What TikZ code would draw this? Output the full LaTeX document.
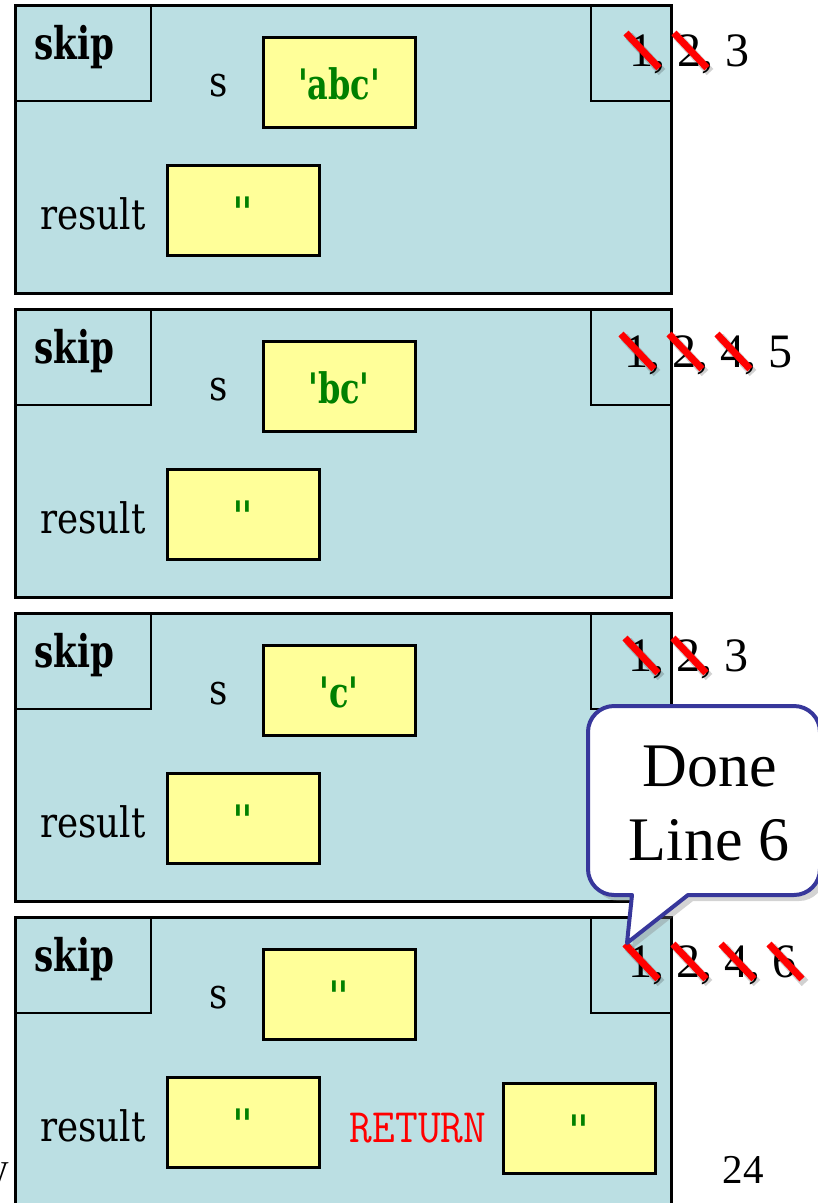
\documentclass[tikz,border=0pt]{standalone}
\usepackage{fontspec}
\usepackage{graphicx}
\usetikzlibrary{shadows}
\setmainfont{Liberation Serif}
\newfontfamily\labf{DejaVu Serif}[FakeStretch=0.85]
\newfontfamily\skipf{DejaVu Serif}[FakeStretch=0.76]
\newfontfamily\valf{DejaVu Serif}[FakeStretch=0.76,Ligatures=TeXOff]
\definecolor{framebg}{RGB}{187,223,227}
\definecolor{valbg}{RGB}{255,255,153}
\definecolor{valtxt}{RGB}{0,128,0}
\definecolor{callblue}{RGB}{55,55,155}
\begin{document}
\begin{tikzpicture}[x=1pt,y=1pt,
  frame/.style={draw=black,line width=3pt,fill=framebg,inner sep=0,minimum width=656pt,minimum height=288pt},
  sub/.style={draw=black,line width=2.5pt,inner sep=0,minimum height=96pt},
  vbox/.style={draw=black,line width=3pt,fill=valbg,inner sep=0,minimum width=152pt,minimum height=90pt},
  lbl/.style={font=\labf\fontsize{42}{42}\selectfont,inner sep=0,anchor=base},
  skiplbl/.style={font=\skipf\bfseries\fontsize{45}{45}\selectfont,inner sep=0,anchor=base west},
  val/.style={font=\valf\bfseries\fontsize{42}{42}\selectfont,text=valtxt,inner sep=0,anchor=base},
  retlbl/.style={font=\ttfamily\fontsize{48}{48}\selectfont,text=red,inner sep=0,anchor=base},
  lnum/.style={font=\fontsize{48}{48}\selectfont,inner sep=0,anchor=base west},
  strikeline/.style={draw=red,line width=7pt},
  strikeshade/.style={draw=black,opacity=0.18,line width=9pt},
  callout/.style={draw=callblue,line width=4pt,fill=white,line join=round,
     drop shadow={opacity=0.35,shadow xshift=5pt,shadow yshift=-6pt}},
  big/.style={font=\fontsize{62}{62}\selectfont,inner sep=0,anchor=base}
]
\useasboundingbox (0,0) rectangle (818,-1203);
\clip (0,0) rectangle (818,-1203);

% frames
\foreach \k/\T/\v in {1/5/'abc',2/309/'bc',3/613/'c',4/917/''}{
  \node[frame] (f\k) at (343,-\T-144) {};
  \node[sub,minimum width=136pt] (sk\k) at (83,-\T-48) {};
  \node[sub,minimum width=80pt] (ln\k) at (631,-\T-48) {};
  \node[skiplbl] (skt\k) at (34,-\T-54) {skip};
  \node[lbl] (st\k) at (219,-\T-91) {s};
  \node[lbl] (rt\k) at (93,-\T-224) {result};
  \node[vbox] (sb\k) at (339,-\T-77) {};
  \node[val] (sv\k) at (339,-\T-94) {\v};
  \node[vbox] (rb\k) at (243,-\T-205) {};
  \node[val] (rv\k) at (243,-\T-222) {''};
}

% return value
\node[retlbl] (ret) at (418,-1142) {\scalebox{0.92}[1]{RETURN}};
\node[vbox] (retb) at (579,-1128) {};
\node[val] (retv) at (579,-1145) {''};

% line numbers
\node[lnum] (num1) at (629,-66) {1, 2, 3};
\node[lnum] (num2) at (624,-367) {1, 2, 4, 5};
\node[lnum] (num3) at (628,-671) {1, 2, 3};
\node[lnum] (num4) at (628,-977) {1, 2, 4, 6};

% strikes
\foreach \o/\b in {629/66,677/66,
                   624/367,672/367,720/367,
                   628/671,676/671,
                   628/977,676/977,724/977,772/977}{
  \draw[strikeshade] (\o+0,-\b+30) -- (\o+33,-\b-6);
  \draw[strikeline] (\o-3,-\b+33) -- (\o+30,-\b-2);
}

% footer
\node[font=\fontsize{41}{41}\selectfont,anchor=base east,inner sep=0] (wtxt) at (9,-1181) {w};
\node[font=\fontsize{41}{41}\selectfont,anchor=base,inner sep=0] (pg) at (743,-1183) {24};

% callout
\draw[callout] (632,-895) -- (614,-895) arc[start angle=270,end angle=180,radius=26]
  -- (588,-732) arc[start angle=180,end angle=90,radius=26]
  -- (794,-706) arc[start angle=90,end angle=0,radius=26]
  -- (820,-869) arc[start angle=0,end angle=-90,radius=26]
  -- (688,-895) -- (627,-943) -- cycle;
\node[big] (done) at (710,-786) {Done};
\node[big] (line6) at (709,-860) {Line 6};
\end{tikzpicture}
\end{document}
